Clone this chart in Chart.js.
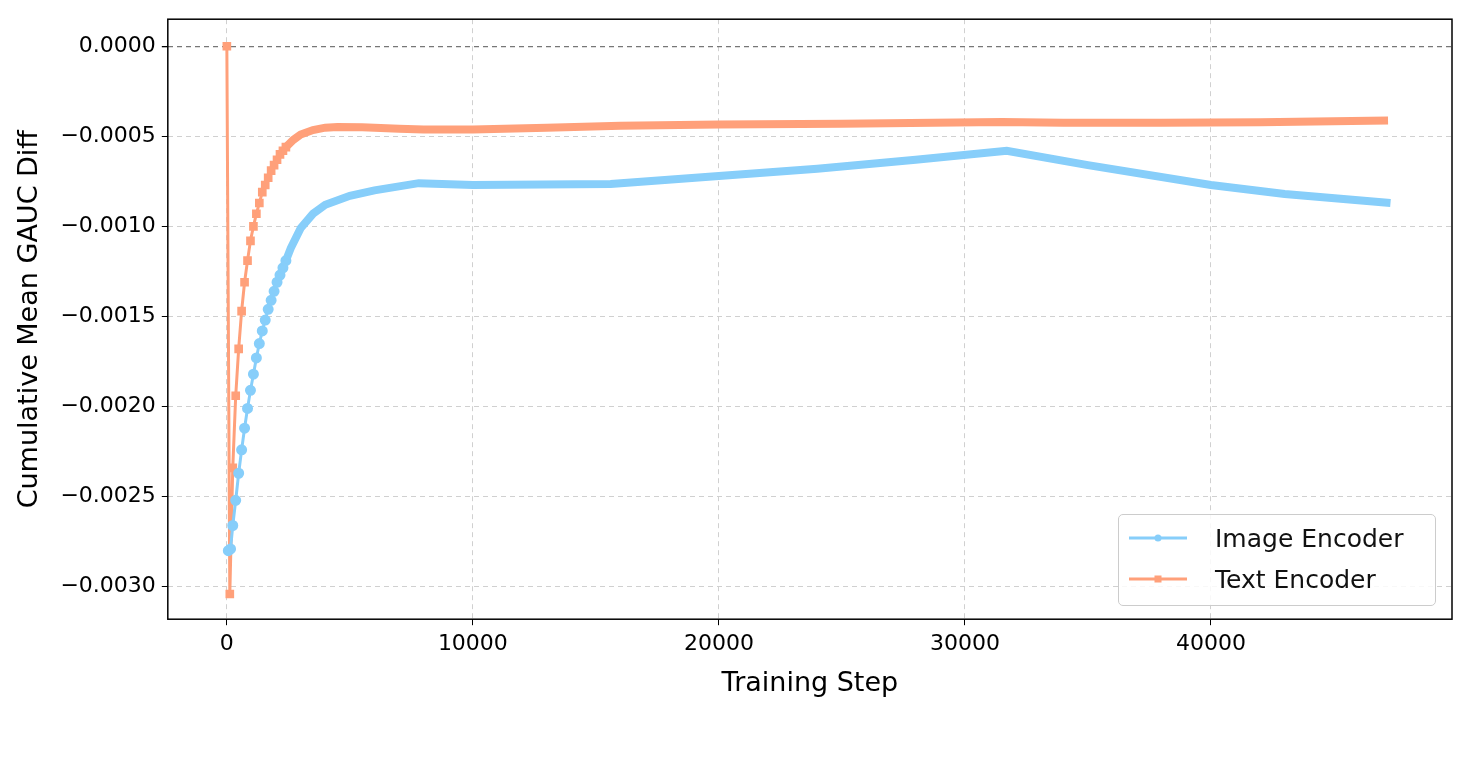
<!DOCTYPE html>
<html><head><meta charset="utf-8">
<script src="https://cdn.jsdelivr.net/npm/chart.js@4"></script>
<style>
body{margin:0;background:#fff;font-family:"DejaVu Sans",sans-serif}
#wrap{position:relative;width:1476px;height:780px}
#leg{position:absolute;left:1118px;top:514px;width:316px;height:90px;border:1.5px solid #ccc;border-radius:5px;background:rgba(255,255,255,0.85);font-size:25px;color:#111}
.row{position:absolute;left:10px;height:30px;display:flex;align-items:center}
.row span{margin-left:26px}
</style></head><body>
<div id="wrap"><canvas id="c" width="1476" height="780"></canvas>
<div id="leg">
<div class="row" style="top:8px"><svg width="60" height="20"><line x1="0" y1="10" x2="58" y2="10" stroke="#87CEFA" stroke-width="3"/><circle cx="29" cy="10" r="3.5" fill="#87CEFA"/></svg><span>Image Encoder</span></div>
<div class="row" style="top:49px"><svg width="60" height="20"><line x1="0" y1="10" x2="58" y2="10" stroke="#FFA07A" stroke-width="3"/><rect x="25.5" y="6.5" width="7" height="7" fill="#FFA07A"/></svg><span>Text Encoder</span></div>
</div></div>
<script>
const textSteps=[0,120,240,360,480,600,720,840,960,1080,1200,1320,1440,1560,1680,1800,1920,2040,2160,2280,2400,2700,3000,3500,4000,4500,5500,7000,8000,10000,13000,16000,20000,25000,31500,34000,38000,42000,47200];
const textVals=[0,-0.00304,-0.00234,-0.00194,-0.00168,-0.00147,-0.00131,-0.00119,-0.00108,-0.00100,-0.00093,-0.00087,-0.00081,-0.00077,-0.00073,-0.00069,-0.00066,-0.00063,-0.00060,-0.00058,-0.00056,-0.00052,-0.00049,-0.000465,-0.000452,-0.000448,-0.00045,-0.000458,-0.000462,-0.000462,-0.000452,-0.000442,-0.000435,-0.00043,-0.00042,-0.000425,-0.000425,-0.000422,-0.000412];
const imageSteps=[60,150,240,360,480,600,720,840,960,1080,1200,1320,1440,1560,1680,1800,1920,2040,2160,2280,2400,2600,3000,3500,4000,5000,6000,7800,10000,15600,20000,24000,28000,31700,35000,40000,43000,47300];
const imageVals=[-0.00280,-0.00279,-0.00266,-0.00252,-0.00237,-0.00224,-0.00212,-0.00201,-0.00191,-0.00182,-0.00173,-0.00165,-0.00158,-0.00152,-0.00146,-0.00141,-0.00136,-0.00131,-0.00127,-0.00123,-0.00119,-0.00112,-0.00101,-0.00093,-0.00088,-0.00083,-0.00080,-0.00076,-0.00077,-0.000765,-0.00072,-0.00068,-0.00063,-0.00058,-0.00066,-0.00077,-0.00082,-0.00087];
const xTicks=[0,10000,20000,30000,40000];
const yTicks=[0,-0.0005,-0.001,-0.0015,-0.002,-0.0025,-0.003];
const pts=(xs,ys)=>xs.map((x,i)=>({x,y:ys[i]}));
const frame={id:'frame',afterDraw(ch){const a=ch.chartArea,c=ch.ctx;c.save();c.strokeStyle='#000';c.lineWidth=1.5;c.strokeRect(a.left,a.top,a.right-a.left,a.bottom-a.top);c.restore();}};
const fmtY=v=>(v<0?'\u2212':'')+Math.abs(v).toFixed(4);
new Chart(document.getElementById('c'),{type:'line',
data:{datasets:[
{label:'Image Encoder',data:pts(imageSteps,imageVals),borderColor:'#87CEFA',backgroundColor:'#87CEFA',borderWidth:3,pointStyle:'circle',
 pointRadius:c=>c.raw&&c.raw.x<=2400?4:0,segment:{borderWidth:s=>s.p0.parsed.x>=2400?8:3}},
{label:'Text Encoder',data:pts(textSteps,textVals),borderColor:'#FFA07A',backgroundColor:'#FFA07A',borderWidth:3,pointStyle:'rect',
 pointRadius:c=>c.raw&&c.raw.x<=2400?4:0,segment:{borderWidth:s=>s.p0.parsed.x>=2400?8:3}}]},
options:{responsive:false,animation:false,layout:{padding:{left:10,right:24,top:8,bottom:76}},
plugins:{legend:{display:false},tooltip:{enabled:false}},
scales:{
x:{type:'linear',min:-2400,max:49800,afterBuildTicks:s=>{s.ticks=xTicks.map(v=>({value:v}))},
 ticks:{font:{size:22,family:'DejaVu Sans'},color:'#000',callback:v=>String(v),maxRotation:0,padding:6},
 grid:{color:'#d0d0d0',lineWidth:1,drawTicks:true,tickColor:'#000',tickLength:6},border:{dash:[5,4],display:false},
 title:{display:true,text:'Training Step',font:{size:27,family:'DejaVu Sans'},color:'#000',padding:{top:4}}},
y:{min:-0.00318,max:0.00015,afterBuildTicks:s=>{s.ticks=yTicks.map(v=>({value:v}))},
 ticks:{font:{size:22,family:'DejaVu Sans'},color:'#000',callback:fmtY,padding:6},
 grid:{color:c=>c.tick&&c.tick.value===0?'#777':'#d0d0d0',lineWidth:c=>c.tick&&c.tick.value===0?1.3:1,tickColor:'#000',tickLength:6},border:{dash:[5,4],display:false},
 title:{display:true,text:'Cumulative Mean GAUC Diff',font:{size:27,family:'DejaVu Sans'},color:'#000',padding:{bottom:8}}}}},
plugins:[frame]});
</script></body></html>
